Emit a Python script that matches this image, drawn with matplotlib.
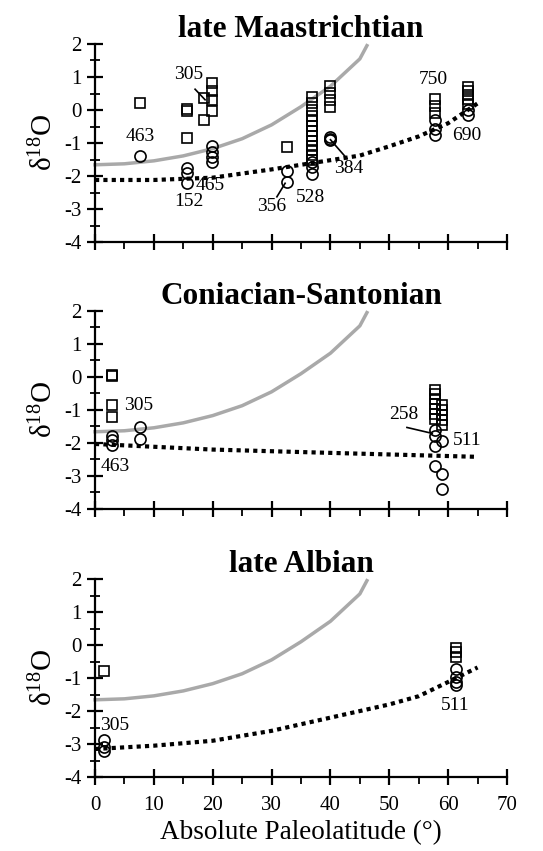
import matplotlib.pyplot as plt
from matplotlib.ticker import MultipleLocator, FuncFormatter

plt.rcParams['font.family'] = ['Liberation Serif', 'DejaVu Serif']
plt.rcParams['mathtext.fontset'] = 'custom'
plt.rcParams['mathtext.rm'] = 'Liberation Serif'
plt.rcParams['mathtext.it'] = 'Liberation Serif:italic'

# model curves (same grey curve in every panel)
grey_lat = [0, 5, 10, 15, 20, 25, 30, 35, 40, 45, 46.2]
grey_d18o = [-1.66, -1.63, -1.54, -1.39, -1.17, -0.87, -0.45, 0.1, 0.72, 1.55, 1.95]

# late Maastrichtian
maas_sq_lat = [7.6, 15.7, 15.7, 15.7, 18.6, 18.6, 19.9, 19.9, 19.9, 19.9, 32.6,
               36.9, 36.9, 36.9, 36.9, 36.9, 36.9, 36.9, 36.9, 36.9, 36.9, 36.9, 36.9, 36.9,
               40, 40, 40, 40, 57.7, 57.7, 57.7, 63.4, 63.4, 63.4, 63.4, 63.4]
maas_sq_d18o = [0.21, 0.02, -0.04, -0.85, 0.35, -0.31, 0.83, 0.57, 0.30, -0.03, -1.11,
                0.4, 0.2, 0.0, -0.18, -0.33, -0.48, -0.63, -0.78, -0.93, -1.08, -1.22, -1.37, -1.5,
                0.72, 0.52, 0.3, 0.08, 0.33, 0.12, -0.1, 0.7, 0.58, 0.45, 0.32, 0.18]
maas_ci_lat = [7.6, 15.7, 15.7, 15.7, 19.9, 19.9, 19.9, 19.9, 32.6, 32.6,
               36.9, 36.9, 36.9, 40, 40, 40, 57.7, 57.7, 57.7, 63.4, 63.4]
maas_ci_d18o = [-1.38, -1.77, -1.92, -2.22, -1.1, -1.26, -1.41, -1.57, -1.85, -2.17,
                -1.58, -1.72, -1.93, -0.82, -0.88, -0.92, -0.3, -0.57, -0.75, 0.0, -0.15]
maas_fit_lat = [0, 10, 20, 30, 40, 45, 50, 55, 60, 65]
maas_fit_d18o = [-2.12, -2.12, -2.05, -1.8, -1.52, -1.38, -1.1, -0.8, -0.4, 0.2]

# Coniacian-Santonian
coni_sq_lat = [2.8, 2.8, 2.8, 2.8, 57.8, 57.8, 57.8, 57.8, 57.8, 57.8, 57.8,
               58.9, 58.9, 58.9, 58.9, 58.9]
coni_sq_d18o = [0.05, 0.02, -0.85, -1.2, -0.38, -0.53, -0.68, -0.83, -0.98, -1.13, -1.27,
                -0.85, -1.0, -1.15, -1.3, -1.45]
coni_ci_lat = [2.8, 2.8, 2.8, 7.7, 7.7, 57.8, 57.8, 57.8, 57.8, 58.9, 58.9, 58.9]
coni_ci_d18o = [-1.78, -1.92, -2.05, -1.52, -1.87, -1.6, -1.8, -2.1, -2.7, -1.95, -2.95, -3.38]
coni_fit_lat = [0, 20, 40, 65]
coni_fit_d18o = [-2.03, -2.2, -2.3, -2.42]

# late Albian
albi_sq_lat = [1.6, 61.4, 61.4, 61.4]
albi_sq_d18o = [-0.8, -0.1, -0.22, -0.35]
albi_ci_lat = [1.6, 1.6, 1.6, 61.4, 61.4, 61.4, 61.4]
albi_ci_d18o = [-2.88, -3.1, -3.2, -0.72, -0.98, -1.12, -1.22]
albi_fit_lat = [0, 10, 20, 30, 40, 50, 55, 60, 65]
albi_fit_d18o = [-3.15, -3.05, -2.9, -2.6, -2.2, -1.8, -1.55, -1.12, -0.68]

panels = [
    ("late Maastrichtian", maas_sq_lat, maas_sq_d18o, maas_ci_lat, maas_ci_d18o, maas_fit_lat, maas_fit_d18o,
     [("463", 7.65, -0.81), ("305", 15.9, 1.07), ("465", 19.6, -2.28), ("152", 15.9, -2.78),
      ("356", 30.0, -2.93), ("528", 36.6, -2.66), ("384", 43.1, -1.77), ("750", 57.5, 0.92),
      ("690", 63.2, -0.76)],
     [((17.0, 0.63), (18.7, 0.31)), ((30.9, -2.63), (32.3, -2.22)), ((40.0, -0.9), (42.8, -1.47))]),
    ("Coniacian-Santonian", coni_sq_lat, coni_sq_d18o, coni_ci_lat, coni_ci_d18o, coni_fit_lat, coni_fit_d18o,
     [("305", 7.4, -0.87), ("463", 3.4, -2.70), ("258", 52.4, -1.13), ("511", 63.3, -1.94)],
     [((53.0, -1.53), (57.3, -1.71))]),
    ("late Albian", albi_sq_lat, albi_sq_d18o, albi_ci_lat, albi_ci_d18o, albi_fit_lat, albi_fit_d18o,
     [("305", 3.4, -2.43), ("511", 61.2, -1.83)],
     []),
]

fig = plt.figure(figsize=(5.43, 8.51), dpi=100)
bottoms = [0.7156, 0.4019, 0.0869]

for i, (title, sq_x, sq_y, ci_x, ci_y, fit_x, fit_y, labels, leaders) in enumerate(panels):
    ax = fig.add_axes([0.175, bottoms[i], 0.7587, 0.2327])
    ax.plot(grey_lat, grey_d18o, color='#a9a9a9', lw=2.5, clip_on=False, zorder=1)
    ax.plot(fit_x, fit_y, color='black', lw=3, linestyle=(0, (1, 1)), clip_on=False, zorder=2)
    ax.plot(sq_x, sq_y, 's', mfc='none', mec='black', ms=7.5, mew=1.2, clip_on=False, zorder=3)
    ax.plot(ci_x, ci_y, 'o', mfc='none', mec='black', ms=8, mew=1.2, clip_on=False, zorder=3)
    for txt, x, y in labels:
        ax.text(x, y, txt, fontsize=14, ha='center', va='center')
    for (x0, y0), (x1, y1) in leaders:
        ax.plot([x0, x1], [y0, y1], color='black', lw=1.2)

    ax.set_xlim(0, 70)
    ax.set_ylim(-4, 2)
    ax.spines['top'].set_visible(False)
    ax.spines['right'].set_visible(False)
    ax.spines['left'].set_linewidth(1.6)
    ax.spines['bottom'].set_linewidth(1.6)
    ax.xaxis.set_major_locator(MultipleLocator(10))
    ax.xaxis.set_minor_locator(MultipleLocator(5))
    ax.yaxis.set_major_locator(MultipleLocator(1))
    ax.yaxis.set_minor_locator(MultipleLocator(0.5))
    ax.tick_params(which='major', direction='inout', length=12, width=1.6, labelsize=15)
    ax.tick_params(axis='x', which='major', pad=8)
    ax.tick_params(axis='y', which='major', pad=4)
    ax.tick_params(axis='x', which='minor', direction='out', length=5, width=1.3)
    ax.tick_params(axis='y', which='minor', direction='inout', length=7, width=1.3)
    ax.yaxis.set_major_formatter(FuncFormatter(lambda v, p: f'{v:g}'))
    ax.set_ylabel(r'$\mathrm{\delta^{18}O}$', fontsize=21, labelpad=4)
    ax.set_title(title, fontsize=22.5, fontweight='bold', pad=3)
    if i < 2:
        ax.tick_params(axis='x', labelbottom=False)
    else:
        ax.set_xlabel('Absolute Paleolatitude (°)', fontsize=19.5, labelpad=3)

plt.savefig('out.png', dpi=100)
